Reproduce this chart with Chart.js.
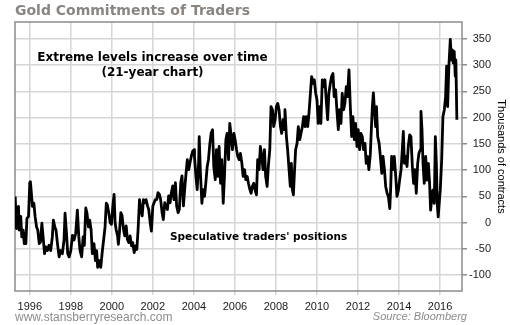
<!DOCTYPE html>
<html>
<head>
<meta charset="utf-8">
<script src="https://cdn.jsdelivr.net/npm/chart.js@4/dist/chart.umd.min.js"></script>
<style>
  html, body { margin: 0; padding: 0; background: #fff; }
  #wrap { position: relative; width: 510px; height: 325px; overflow: hidden; background: #fff; }
  #c { position: absolute; left: 0; top: 0; }
  .txt { position: absolute; white-space: nowrap; }
  #title { left: 15px; top: 3px; font: bold 14px/14px "DejaVu Sans", Verdana, sans-serif; color: #8a8580; }
  #note1 { left: 2px; top: 50px; width: 301px; text-align: center; font: bold 12px/14.5px "DejaVu Sans", Verdana, sans-serif; color: #000; }
  #note2 { left: 170px; top: 230px; font: bold 10.5px/12px "DejaVu Sans", Verdana, sans-serif; color: #000; }
  #site { left: 15px; top: 310.5px; font: 12px/12px "Liberation Sans", Arial, sans-serif; color: #8c8c8c; }
  #source { right: 43px; top: 311.3px; font: italic 11px/11px "Liberation Sans", Arial, sans-serif; color: #8c8c8c; }
</style>
</head>
<body>
<div id="wrap">
  <canvas id="c" width="510" height="325"></canvas>
  <div class="txt" id="title">Gold Commitments of Traders</div>
  <div class="txt" id="note1">Extreme levels increase over time<br>(21-year chart)</div>
  <div class="txt" id="note2">Speculative traders' positions</div>
  <div class="txt" id="site">www.stansberryresearch.com</div>
  <div class="txt" id="source">Source: Bloomberg</div>
</div>
<script>
// Dates (decimal years) of readings, 1995-2016
const dates = [
  1995.29,1995.35,1995.40,1995.45,1995.48,1995.56,1995.61,1995.68,1995.73,1995.77,
  1995.81,1995.86,1995.94,1996.00,1996.03,1996.08,1996.13,1996.20,1996.26,1996.33,
  1996.39,1996.46,1996.52,1996.59,1996.65,1996.72,1996.78,1996.86,1996.94,1997.02,
  1997.10,1997.15,1997.22,1997.28,1997.35,1997.43,1997.51,1997.59,1997.67,1997.72,
  1997.79,1997.85,1997.92,1998.00,1998.08,1998.16,1998.24,1998.32,1998.39,1998.45,
  1998.53,1998.60,1998.66,1998.73,1998.79,1998.86,1998.92,1998.99,1999.05,1999.13,
  1999.20,1999.26,1999.31,1999.38,1999.46,1999.54,1999.60,1999.67,1999.73,1999.78,
  1999.85,1999.92,1999.98,2000.05,2000.11,2000.16,2000.21,2000.28,2000.32,2000.37,
  2000.44,2000.50,2000.57,2000.63,2000.70,2000.76,2000.83,2000.89,2000.96,2001.02,
  2001.09,2001.15,2001.22,2001.28,2001.35,2001.41,2001.48,2001.54,2001.61,2001.67,
  2001.74,2001.80,2001.87,2001.93,2002.00,2002.06,2002.12,2002.19,2002.25,2002.32,
  2002.38,2002.45,2002.51,2002.58,2002.64,2002.71,2002.77,2002.84,2002.90,2002.97,
  2003.03,2003.10,2003.16,2003.23,2003.29,2003.36,2003.42,2003.49,2003.55,2003.62,
  2003.68,2003.75,2003.81,2003.88,2003.94,2004.01,
  2004.03,2004.10,2004.16,2004.23,2004.26,2004.32,2004.39,2004.45,2004.52,2004.58,
  2004.65,2004.71,2004.78,2004.84,2004.91,2004.97,2005.04,2005.10,2005.17,2005.23,
  2005.30,2005.36,2005.43,2005.49,2005.56,2005.62,2005.69,2005.75,2005.82,2005.88,
  2005.95,2006.01,2006.08,2006.14,2006.21,2006.27,2006.34,2006.40,2006.47,2006.53,
  2006.60,2006.66,2006.73,2006.79,2006.85,2006.92,2006.98,2007.05,2007.11,2007.18,
  2007.24,2007.31,2007.37,2007.44,2007.50,2007.57,2007.63,2007.70,2007.76,2007.83,
  2007.89,2007.96,2008.02,2008.09,2008.15,2008.22,2008.28,2008.35,2008.41,
  2008.44,2008.51,2008.57,2008.64,2008.70,2008.75,2008.80,2008.85,2008.90,2008.96,
  2009.03,2009.09,2009.16,2009.22,2009.29,2009.35,2009.42,2009.48,2009.55,2009.61,
  2009.68,2009.74,2009.81,2009.87,2009.94,2010.00,2010.06,2010.13,2010.19,2010.26,
  2010.32,2010.39,2010.45,2010.52,2010.58,2010.65,2010.71,2010.78,2010.84,2010.91,
  2010.97,2011.04,2011.10,2011.17,2011.23,2011.30,2011.36,2011.43,2011.49,2011.56,
  2011.62,2011.69,2011.75,2011.82,2011.88,2011.95,2012.01,2012.08,2012.14,2012.21,
  2012.27,2012.34,2012.40,2012.47,2012.53,2012.60,2012.65,
  2012.70,2012.75,2012.80,2012.86,2012.90,2012.96,2013.03,2013.09,2013.16,2013.22,
  2013.29,2013.35,2013.42,2013.48,2013.55,2013.59,2013.64,2013.71,2013.77,2013.84,
  2013.90,2013.97,2014.03,2014.10,2014.16,2014.21,2014.26,2014.32,2014.39,2014.45,
  2014.52,2014.58,2014.65,2014.71,2014.78,2014.84,2014.91,2014.97,2015.04,2015.07,
  2015.12,2015.17,2015.23,2015.30,2015.36,2015.43,2015.49,2015.54,2015.59,2015.65,
  2015.72,2015.77,2015.82,2015.87,2015.91,2015.96,2016.01,2016.08,2016.14,2016.21,
  2016.27,2016.32,2016.37,2016.43,2016.50,2016.55,2016.60,2016.64,2016.69,2016.74,
  2016.77,2016.82
];
// Speculative net positions, thousands of contracts
const positions = [
  50,-11,24,31,-14,12,-27,-14,-40,-20,
  -40,8,12,76,78,56,31,37,12,-8,
  -14,-40,-37,-1,-27,-59,-46,-53,-43,-53,
  -27,5,-8,-14,-40,-65,-53,-59,-33,18,
  -20,-59,-65,-53,-24,-33,-20,24,-27,-53,
  -65,-27,-43,28,18,-8,5,-14,-59,-40,
  -72,-53,-85,-72,-85,-53,-33,-8,37,34,
  19,0,-3,32,54,0,-13,-25,-41,-19,
  19,13,-13,-25,-6,-32,-38,-25,-44,-38,
  -57,-44,-51,-13,44,25,13,44,38,44,
  32,25,0,-16,32,38,44,44,57,54,
  44,19,6,38,32,25,51,38,57,70,
  44,76,32,19,25,76,89,32,63,95,
  120,101,114,127,136,139,
  126,88,63,113,164,94,37,63,50,75,
  107,120,151,170,177,107,82,139,88,145,
  75,120,37,88,158,170,120,189,164,139,
  170,158,139,126,120,132,113,88,101,82,
  88,75,63,56,69,75,63,53,120,101,
  145,126,101,139,88,69,107,139,221,215,
  183,196,221,227,215,183,170,196,177,
  215,164,139,101,69,113,63,53,94,139,
  151,183,158,170,183,202,183,202,183,208,
  246,278,265,272,246,234,189,221,189,272,
  259,272,234,196,246,265,278,284,240,253,
  215,177,215,189,246,215,227,259,240,291,
  227,164,202,158,189,145,177,139,170,164,
  139,151,113,126,101,130,177,
  221,247,215,183,221,164,151,126,94,126,
  101,69,56,50,27,62,126,101,126,88,
  50,62,81,101,139,174,113,126,107,145,
  167,164,107,75,101,56,113,132,139,212,
  177,113,75,126,81,113,75,24,43,62,
  37,164,113,31,11,37,62,120,202,215,
  240,298,221,298,349,310,329,304,326,279,
  310,196
];
const xTickYears = [1996,1998,2000,2002,2004,2006,2008,2010,2012,2014,2016];
const yTickValues = [-100,-50,0,50,100,150,200,250,300,350];
const yAxisTitle = 'Thousands of contracts';

const n = Math.min(dates.length, positions.length);
const points = [];
for (let i = 0; i < n; i++) points.push({ x: dates[i], y: positions[i] });

const tickFamily = '"Liberation Sans", Arial, sans-serif';
const tickFont = { family: tickFamily, size: 11 };

const framePlugin = {
  id: 'frame',
  beforeDatasetsDraw(chart) {
    const { ctx, chartArea: a } = chart;
    ctx.save();
    ctx.strokeStyle = '#8c8c8c';
    ctx.lineWidth = 1.5;
    ctx.strokeRect(a.left, a.top, a.right - a.left, a.bottom - a.top);
    ctx.restore();
  },
  // right-aligned labels of the right-hand value axis, placed at the scale's own tick positions
  afterDraw(chart) {
    const { ctx } = chart;
    const s = chart.scales.y;
    ctx.save();
    ctx.font = '11px ' + tickFamily;
    ctx.fillStyle = '#1a1a1a';
    ctx.textAlign = 'right';
    ctx.textBaseline = 'middle';
    s.ticks.forEach(t => {
      ctx.fillText(String(t.value), s.left + 29, s.getPixelForValue(t.value));
    });
    ctx.restore();
  }
};

new Chart(document.getElementById('c'), {
  type: 'line',
  data: {
    datasets: [{
      data: points,
      borderColor: '#000',
      borderWidth: 2.8,
      pointRadius: 0,
      tension: 0,
      fill: false,
      borderJoinStyle: 'round'
    }]
  },
  options: {
    responsive: false,
    animation: false,
    devicePixelRatio: 1,
    layout: { padding: { left: 15, top: 22, right: 0, bottom: 0 } },
    plugins: { legend: { display: false }, tooltip: { enabled: false }, title: { display: false } },
    scales: {
      x: {
        type: 'linear',
        min: 1995.28,
        max: 2017.07,
        afterBuildTicks: s => { s.ticks = xTickYears.map(v => ({ value: v })); },
        afterFit: s => { s.height = 34; },
        ticks: { callback: v => String(v), font: tickFont, color: '#1a1a1a', maxRotation: 0, autoSkip: false, padding: 5 },
        grid: { color: '#d6d6d6', lineWidth: 1.5, tickLength: 4, drawTicks: true },
        border: { display: false }
      },
      y: {
        type: 'linear',
        position: 'right',
        min: -130,
        max: 382,
        afterBuildTicks: s => { s.ticks = yTickValues.map(v => ({ value: v })); },
        afterFit: s => { s.width = 48; },
        ticks: { display: false },
        grid: { color: '#d6d6d6', lineWidth: 1.5, tickLength: 5, tickColor: '#8c8c8c', tickWidth: 1.5 },
        border: { display: false },
        title: { display: true, text: yAxisTitle, color: '#000', font: { family: tickFamily, size: 11 }, padding: { top: 2, bottom: 0 } }
      }
    }
  },
  plugins: [framePlugin]
});
</script>
</body>
</html>
